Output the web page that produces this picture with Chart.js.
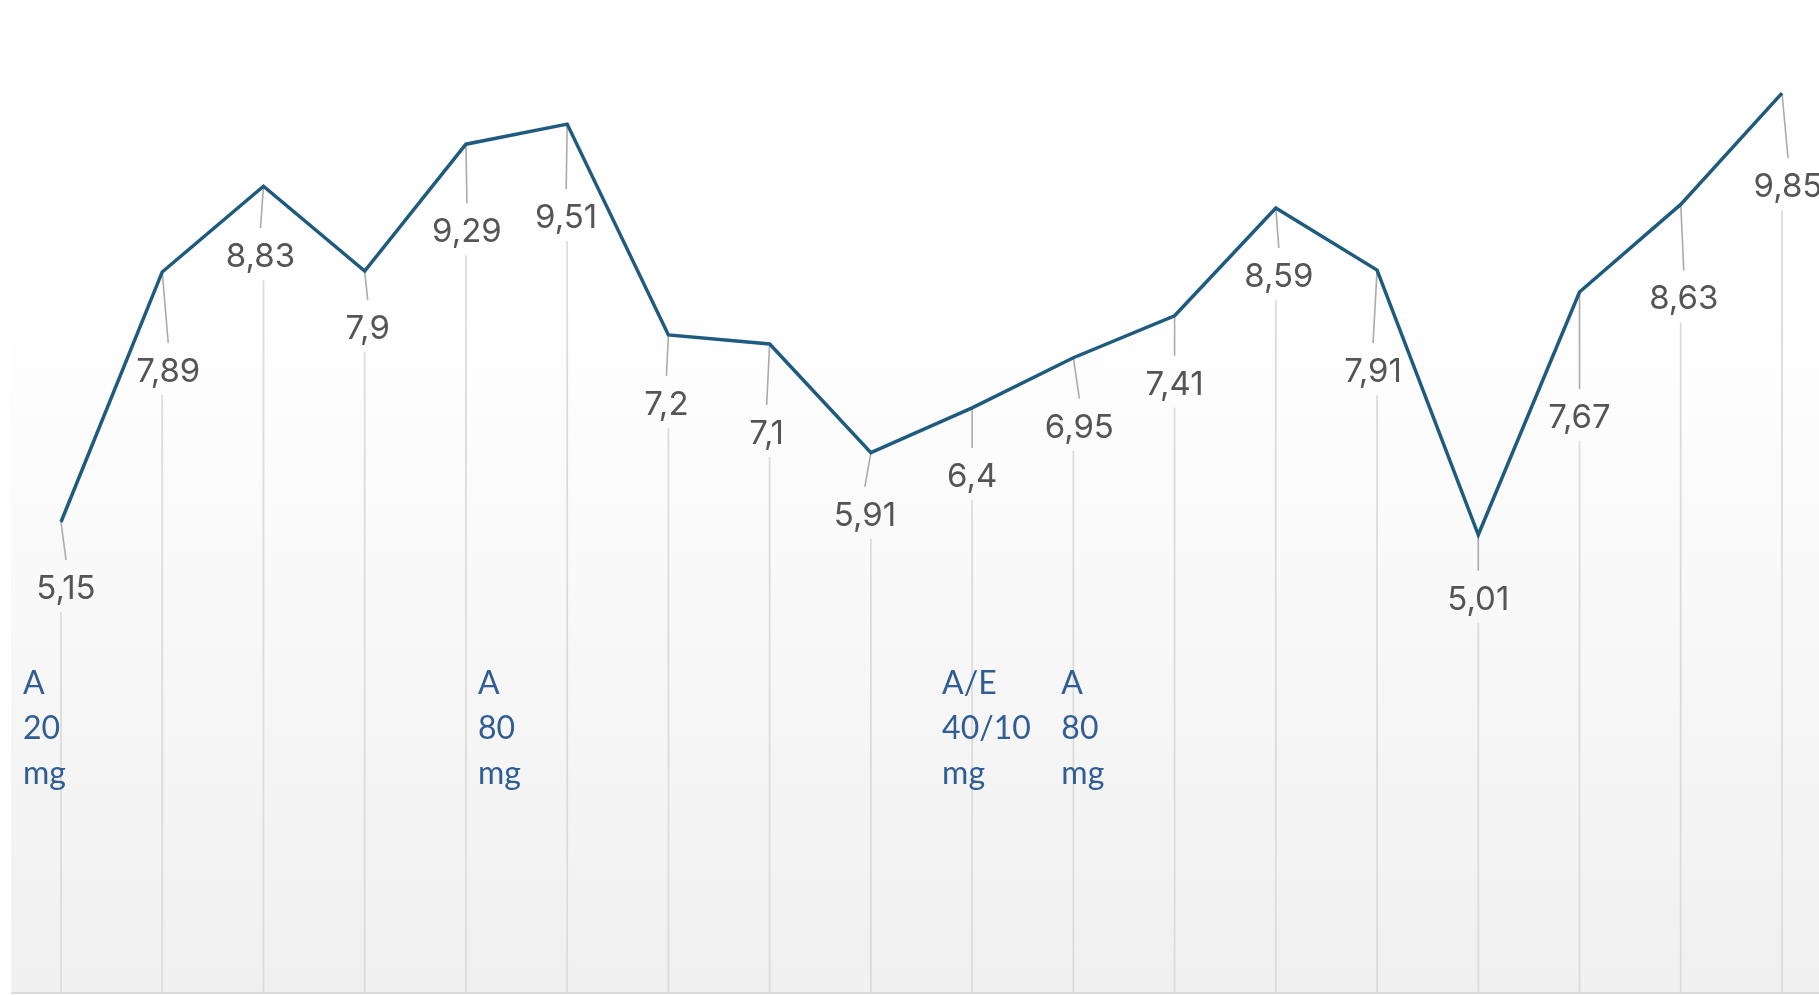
<!DOCTYPE html>
<html>
<head>
<meta charset="utf-8">
<script src="https://cdn.jsdelivr.net/npm/chart.js@4/dist/chart.umd.min.js"></script>
<style>
  html, body { margin: 0; padding: 0; background: #ffffff; }
  #wrap { width: 1819px; height: 995px; position: relative; }
</style>
</head>
<body>
<div id="wrap"><canvas id="myChart"></canvas></div>
<script>
// measurements in order, no axis labels shown in the picture
const categories = ['1', '2', '3', '4', '5', '6', '7', '8', '9', '10', '11', '12', '13', '14', '15', '16', '17', '18'];
const values = [5.15, 7.89, 8.83, 7.9, 9.29, 9.51, 7.2, 7.1, 5.91, 6.4, 6.95, 7.41, 8.59, 7.91, 5.01, 7.67, 8.63, 9.85];

// dose notes, attached to a measurement index
const doseIndex = [0, 4, 9, 10];
const doseNotes = [['A', '20', 'mg'], ['A', '80', 'mg'], ['A/E', '40/10', 'mg'], ['A', '80', 'mg']];

// label placement (pixels relative to the point), keeps labels from colliding
const labelDx = [5, 6, -3, 3, 1, -1, -2, -3, -6, 0, 6, 0, 3, -4, 0, 0, 3, 6];
const labelDy = [66, 99, 70, 57, 87, 93, 69, 89, 62, 68, 69, 68, 68, 101, 64, 125, 94, 93];
const noteDx = [-38, 12, -30, -12];

const LINE_COLOR = '#1f5b7f';
const TEXT_COLOR = '#555555';
const NOTE_COLOR = '#2f5d94';

const fmt = v => String(v).replace('.', ',');

const backgroundPlugin = {
  id: 'bg',
  beforeDraw(chart) {
    const { ctx, chartArea } = chart;
    const g = ctx.createLinearGradient(0, 0, 0, chartArea.bottom);
    g.addColorStop(0, '#ffffff');
    g.addColorStop(0.3, '#ffffff');
    g.addColorStop(1, '#f0f0f1');
    ctx.save();
    ctx.fillStyle = g;
    ctx.fillRect(11, 0, chart.width - 11, chartArea.bottom);
    ctx.strokeStyle = '#dadada';
    ctx.lineWidth = 2;
    ctx.beginPath();
    ctx.moveTo(11, chartArea.bottom + 1);
    ctx.lineTo(chart.width, chartArea.bottom + 1);
    ctx.stroke();
    ctx.restore();
  }
};

const dropLinePlugin = {
  id: 'dropLines',
  beforeDatasetsDraw(chart) {
    const { ctx, chartArea } = chart;
    const pts = chart.getDatasetMeta(0).data;
    ctx.save();
    pts.forEach((p, i) => {
      const cy = p.y + labelDy[i];
      // leader from point to the label
      ctx.strokeStyle = '#ababab';
      ctx.lineWidth = 1.6;
      ctx.beginPath();
      ctx.moveTo(p.x, p.y);
      ctx.lineTo(p.x + labelDx[i], cy - 28);
      ctx.stroke();
      // drop line below the label
      ctx.strokeStyle = '#dcdcdc';
      ctx.lineWidth = 1.8;
      ctx.beginPath();
      ctx.moveTo(p.x, cy + 24);
      ctx.lineTo(p.x, chartArea.bottom);
      ctx.stroke();
    });
    ctx.restore();
  }
};

const labelPlugin = {
  id: 'valueLabels',
  afterDatasetsDraw(chart) {
    const { ctx } = chart;
    const pts = chart.getDatasetMeta(0).data;
    ctx.save();
    ctx.font = '33px Inter, "Liberation Sans", sans-serif';
    ctx.fillStyle = TEXT_COLOR;
    ctx.textAlign = 'center';
    ctx.textBaseline = 'middle';
    pts.forEach((p, i) => {
      ctx.fillText(fmt(values[i]), p.x + labelDx[i], p.y + labelDy[i] + 1);
    });

    // dose notes
    ctx.font = '32px Lato, "Open Sans", sans-serif';
    ctx.fillStyle = NOTE_COLOR;
    ctx.textAlign = 'left';
    ctx.textBaseline = 'alphabetic';
    doseIndex.forEach((idx, k) => {
      const x = pts[idx].x + noteDx[k];
      doseNotes[k].forEach((line, j) => {
        ctx.fillText(line, x, 694 + j * 45);
      });
    });
    ctx.restore();
  }
};

const ctx = document.getElementById('myChart').getContext('2d');

const myLineChart = new Chart(ctx, {
  type: 'line',
  data: {
    labels: categories,
    datasets: [{
      data: values,
      borderColor: LINE_COLOR,
      borderWidth: 3.5,
      pointRadius: 0,
      tension: 0,
      fill: false,
      clip: false
    }]
  },
  options: {
    responsive: true,
    maintainAspectRatio: false,
    animation: false,
    layout: { padding: { left: 61, right: 37, top: 0, bottom: 3 } },
    plugins: {
      legend: { display: false },
      tooltip: { enabled: false }
    },
    scales: {
      x: { display: false, offset: false },
      y: { display: false, min: 0, max: 10.87 }
    }
  },
  plugins: [backgroundPlugin, dropLinePlugin, labelPlugin]
});
</script>
</body>
</html>
